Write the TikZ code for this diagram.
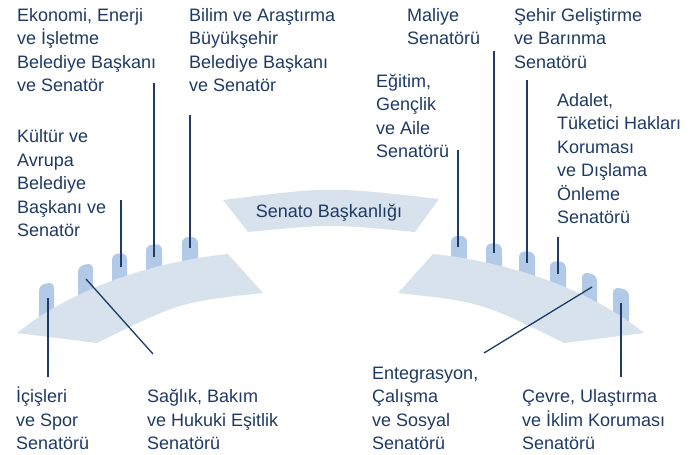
\documentclass[tikz,border=0pt]{standalone}
\usepackage{fontspec}
\setmainfont{Liberation Sans}
\definecolor{bandc}{HTML}{D7E2ED}
\definecolor{tabc}{HTML}{B2CAE7}
\definecolor{linec}{HTML}{1C3B66}
\definecolor{txtc}{HTML}{1E3A64}
\begin{document}
\begin{tikzpicture}[x=1pt,y=-1pt,
  lbl/.style={anchor=base west, align=left, inner sep=0pt, text=txtc, font=\fontsize{18}{23.5}\selectfont},
  conn/.style={draw=linec, line width=1.3pt},
  tabshape/.style={fill=tabc, rounded corners=6pt},
  bandshape/.style={fill=bandc}]
\useasboundingbox (0,0) rectangle (697,455);

% tabs (left band)
\path[tabshape] (39,328) -- (39,285) -- (54,282) -- (54,328) -- cycle;
\path[tabshape] (78,310) -- (78,266) -- (93,263) -- (93,310) -- cycle;
\path[tabshape] (112,298) -- (112,254) -- (127,253) -- (127,298) -- cycle;
\path[tabshape] (146,290) -- (146,245) -- (162,244) -- (162,290) -- cycle;
\path[tabshape] (182,282) -- (182,237) -- (198,237) -- (198,282) -- cycle;
% tabs (right band)
\path[tabshape] (451,281) -- (451,236) -- (467,236) -- (467,281) -- cycle;
\path[tabshape] (486,288) -- (486,243) -- (502,244) -- (502,288) -- cycle;
\path[tabshape] (519,296) -- (519,251) -- (535,252) -- (535,296) -- cycle;
\path[tabshape] (550,306) -- (550,261) -- (566,262) -- (566,306) -- cycle;
\path[tabshape] (582,318) -- (582,272) -- (597,275) -- (597,318) -- cycle;
\path[tabshape] (613,330) -- (613,287) -- (629,290) -- (629,330) -- cycle;

% bands
\path[bandshape] (17,333) .. controls (70,290) and (150,262) .. (228,254) -- (263,293)
  .. controls (180,302) .. (97,343) -- cycle;
\path[bandshape] (644,333) .. controls (591,290) and (511,262) .. (433,254) -- (398,293)
  .. controls (481,302) .. (564,343) -- cycle;
% Senato box
\path[bandshape] (223,200) .. controls (330,186.5) .. (439,199) -- (415,232)
  .. controls (331,224) .. (248,232) -- cycle;
\node[lbl, anchor=base] (senato) at (329,217) {Senato Başkanlığı};

% labels (positioned at the baseline of their last line)
\node[lbl] (eko) at (17,91.5) {Ekonomi, Enerji\\ve İşletme\\Belediye Başkanı\\ve Senatör};
\node[lbl] (bil) at (189,91.5) {Bilim ve Araştırma\\Büyükşehir\\Belediye Başkanı\\ve Senatör};
\node[lbl] (kul) at (17,236.7) {Kültür ve\\Avrupa\\Belediye\\Başkanı ve\\Senatör};
\node[lbl] (mal) at (407,44.5) {Maliye\\Senatörü};
\node[lbl] (seh) at (514,68) {Şehir Geliştirme\\ve Barınma\\Senatörü};
\node[lbl] (egi) at (376,157.8) {Eğitim,\\Gençlik\\ve Aile\\Senatörü};
\node[lbl] (ada) at (557,223.5) {Adalet,\\Tüketici Hakları\\Koruması\\ve Dışlama\\Önleme\\Senatörü};
\node[lbl] (ici) at (16,449.5) {İçişleri\\ve Spor\\Senatörü};
\node[lbl] (sag) at (147,449.5) {Sağlık, Bakım\\ve Hukuki Eşitlik\\Senatörü};
\node[lbl] (ent) at (372,449.5) {Entegrasyon,\\Çalışma\\ve Sosyal\\Senatörü};
\node[lbl] (cev) at (522,449.5) {Çevre, Ulaştırma\\ve İklim Koruması\\Senatörü};

% connector ends
\coordinate (t1) at (48,298);   \coordinate (e1) at (48,377);
\coordinate (t2) at (86,279);   \coordinate (e2) at (153,354);
\coordinate (t3) at (121,267);  \coordinate (e3) at (121,200);
\coordinate (t4) at (154,257);  \coordinate (e4) at (154,83);
\coordinate (t5) at (190,248);  \coordinate (e5) at (190,115);
\coordinate (r1) at (458,247);  \coordinate (f1) at (458,150);
\coordinate (r2) at (494,253);  \coordinate (f2) at (494,51);
\coordinate (r3) at (527,263);  \coordinate (f3) at (527,80);
\coordinate (r4) at (558,274);  \coordinate (f4) at (558,237);
\coordinate (r5) at (592,287);  \coordinate (f5) at (484,353);
\coordinate (r6) at (621,303);  \coordinate (f6) at (621,377);

\draw[conn] (t1) -- (e1);
\draw[conn] (t2) -- (e2);
\draw[conn] (t3) -- (e3);
\draw[conn] (t4) -- (e4);
\draw[conn] (t5) -- (e5);
\draw[conn] (r1) -- (f1);
\draw[conn] (r2) -- (f2);
\draw[conn] (r3) -- (f3);
\draw[conn] (r4) -- (f4);
\draw[conn] (r5) -- (f5);
\draw[conn] (r6) -- (f6);
\end{tikzpicture}
\end{document}
